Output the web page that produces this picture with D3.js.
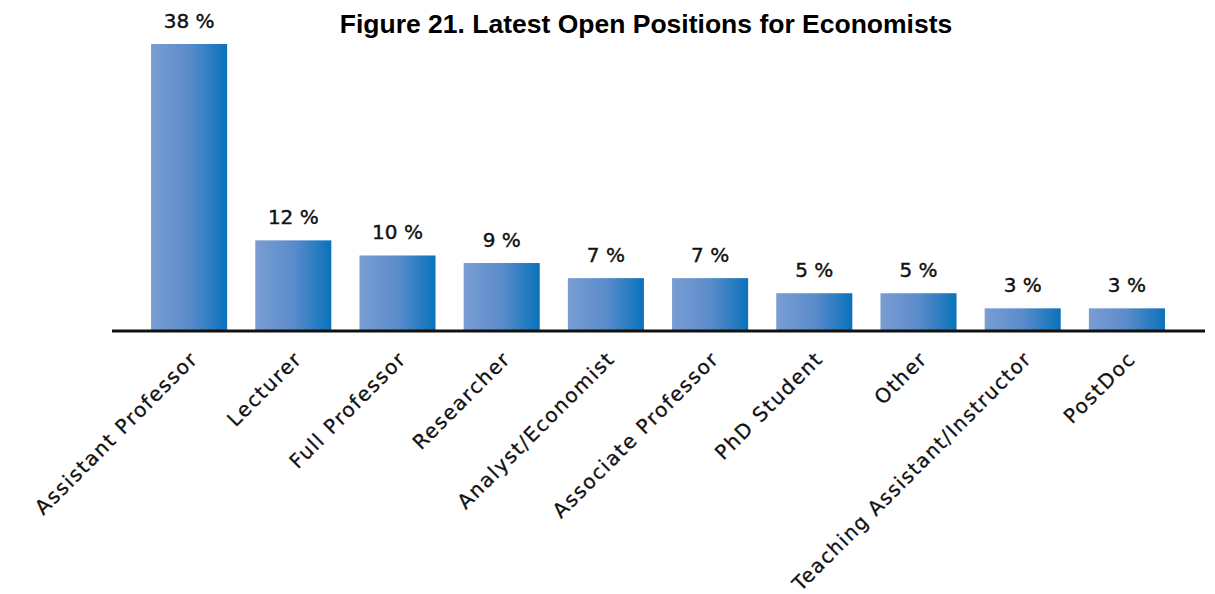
<!DOCTYPE html>
<html>
<head>
<meta charset="utf-8">
<script src="https://cdn.jsdelivr.net/npm/d3@7"></script>
<style>
  body { margin: 0; background: #fff; }
  .title { font-family: "Liberation Sans", Arial, sans-serif; font-weight: bold; font-size: 26.5px; }
  .val { font-family: "DejaVu Sans", sans-serif; font-size: 20px; fill: #111; stroke: #111; stroke-width: 0.4px; }
  .cat { font-family: "DejaVu Sans", sans-serif; font-size: 20px; letter-spacing: 1.6px; fill: #111; stroke: #111; stroke-width: 0.3px; }
</style>
</head>
<body>
<div id="chartDiv"></div>
<script>
// data
var categories = ["Assistant Professor", "Lecturer", "Full Professor", "Researcher",
  "Analyst/Economist", "Associate Professor", "PhD Student", "Other",
  "Teaching Assistant/Instructor", "PostDoc"];
var values = [38, 12, 10, 9, 7, 7, 5, 5, 3, 3];
var valueLabels = ["38 %", "12 %", "10 %", "9 %", "7 %", "7 %", "5 %", "5 %", "3 %", "3 %"];

var width = 1215, height = 594;
var baseY = 331;
var plot = { left: 137, right: 1179, top: 44 };
var maxLabelLen = 328;

var svg = d3.select("#chartDiv").append("svg")
  .attr("width", width)
  .attr("height", height);

// gradient for the bars
var grad = svg.append("defs").append("linearGradient")
  .attr("id", "barGrad")
  .attr("x1", "0%").attr("x2", "100%").attr("y1", "0%").attr("y2", "0%");
grad.append("stop").attr("offset", "0%").attr("stop-color", "#7a9dd3");
grad.append("stop").attr("offset", "50%").attr("stop-color", "#5a8ccb");
grad.append("stop").attr("offset", "100%").attr("stop-color", "#0a72bb");

var x = d3.scaleBand()
  .domain(categories)
  .range([plot.left, plot.right])
  .paddingInner(0.27)
  .paddingOuter(0.135);

var y = d3.scaleLinear()
  .domain([0, 38])
  .range([baseY, plot.top]);

// title
svg.append("text")
  .attr("class", "title")
  .attr("x", 646)
  .attr("y", 33)
  .attr("text-anchor", "middle")
  .text("Figure 21. Latest Open Positions for Economists");

// bars
svg.selectAll(".bar")
  .data(values)
  .enter().append("rect")
    .attr("class", "bar")
    .attr("x", function(d, i) { return x(categories[i]); })
    .attr("y", function(d) { return y(d); })
    .attr("width", x.bandwidth())
    .attr("height", function(d) { return baseY - y(d); })
    .style("fill", "url(#barGrad)");

// value labels
svg.selectAll(".val")
  .data(values)
  .enter().append("text")
    .attr("class", "val")
    .attr("text-anchor", "middle")
    .attr("x", function(d, i) { return x(categories[i]) + x.bandwidth() / 2; })
    .attr("y", function(d) { return y(d) - 16; })
    .text(function(d, i) { return valueLabels[i]; });

// baseline
svg.append("line")
  .attr("x1", 112).attr("x2", 1205)
  .attr("y1", baseY).attr("y2", baseY)
  .style("stroke", "#111")
  .style("stroke-width", 3);

// category labels, rotated
svg.selectAll(".cat")
  .data(categories)
  .enter().append("text")
    .attr("class", "cat")
    .attr("text-anchor", "end")
    .attr("transform", function(d) {
      return "translate(" + (x(d) + x.bandwidth() / 2 + 10) + "," + 360 + ") rotate(-45)";
    })
    .text(function(d) { return d; })
    .each(function() {
      // squeeze the long one so it fits the page like the original
      if (this.getComputedTextLength() > maxLabelLen) {
        d3.select(this).attr("textLength", maxLabelLen).attr("lengthAdjust", "spacingAndGlyphs");
      }
    });
</script>
</body>
</html>
